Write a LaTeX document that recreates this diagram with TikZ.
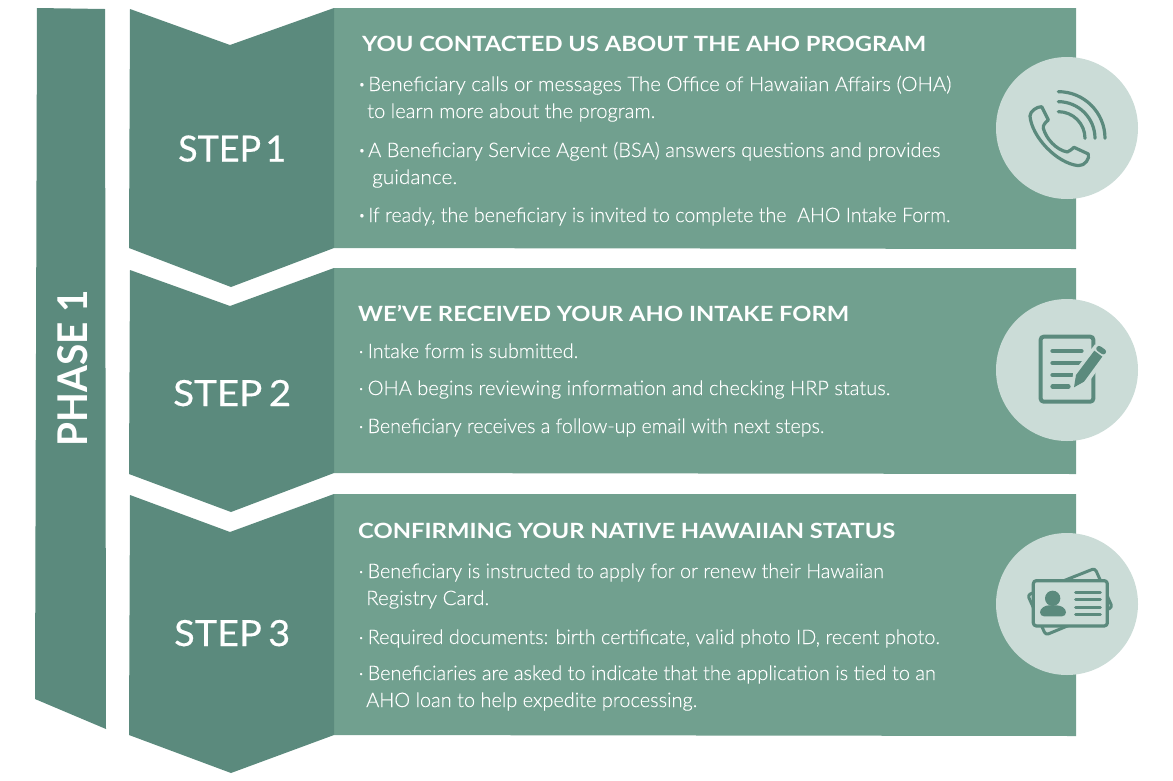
\documentclass[tikz,border=0pt]{standalone}
\usepackage{fontspec}
\usepackage{graphicx}
\setmainfont{Lato}
\newfontfamily\bodyfont[FakeBold=0.2]{Lato Light}
\newfontfamily\stepfont[FakeBold=0.5]{Lato}
\definecolor{darkgreen}{HTML}{5B8A7D}
\definecolor{panelgreen}{HTML}{71A08F}
\definecolor{circlegreen}{HTML}{CBDCD7}
\tikzset{
  chevron/.style={fill=darkgreen,draw=none},
  panel/.style={fill=panelgreen,draw=none},
  badge/.style={circle,fill=circlegreen,draw=none,minimum size=142pt,inner sep=0pt},
  bodytext/.style={anchor=base west,inner sep=0pt,text=white,font=\bodyfont\fontsize{20}{20}\selectfont},
  titletext/.style={anchor=base west,inner sep=0pt,text=white,font=\bfseries\fontsize{21}{21}\selectfont},
  steptext/.style={anchor=base west,inner sep=0pt,text=white,font=\stepfont\fontsize{36}{36}\selectfont},
  iconline/.style={draw=darkgreen,line cap=round,line join=round},
}
\newcommand{\fitline}[5]{\node[#1] (#2) at #3 {\resizebox{#4pt}{\height}{#5}};}
\newcommand{\roundmark}{\makebox[10pt][l]{\hspace{0.5pt}\fontsize{11}{11}\selectfont\raisebox{3pt}{•}}}
\newcommand{\smallmark}{\makebox[9.5pt][l]{\hspace{0.5pt}·}}
\newcommand{\markline}[5]{\node[bodytext] (#1) at #2 {#4\resizebox{#3pt}{\height}{#5}};}
\begin{document}
\begin{tikzpicture}[x=1pt,y=-1pt]
\useasboundingbox (0,0) rectangle (1173,780);
% panels
\fill[panel] (334,8) -- (1076,8) -- (1076,249) -- (334,248) -- cycle;
\fill[panel] (334,268) -- (1076,268) -- (1076,474) -- (334,473) -- cycle;
\fill[panel] (334,494) -- (1076,494) -- (1076,736) -- (334,735) -- cycle;
% phase bar
\fill[chevron] (37,8) -- (105,9) -- (106,729) -- (35,699) -- cycle;
% steps
\fill[chevron] (130,9) -- (230,45) -- (334,8) -- (334,248) -- (231,287) -- (129,248) -- cycle;
\fill[chevron] (130,270) -- (230,306) -- (334,268) -- (334,473) -- (231,512) -- (129,474) -- cycle;
\fill[chevron] (130,495) -- (230,532) -- (334,494) -- (334,735) -- (231,773) -- (129,735) -- cycle;
% badges
\node[badge] (badgeA) at (1067,128) {};
\node[badge] (badgeB) at (1067,370) {};
\node[badge] (badgeC) at (1067,604) {};
% labels
\node[anchor=base,inner sep=0pt,text=white,font=\bfseries\fontsize{41}{41}\selectfont,rotate=90] (phase) at (87,368) {\resizebox{156pt}{\height}{PHASE 1}};
\fitline{steptext}{stepA}{(178,161.5)}{108}{STEP\hspace{0.12em}1}
\fitline{steptext}{stepB}{(173,406)}{118}{STEP\hspace{0.17em}2}
\fitline{steptext}{stepC}{(174,646)}{116}{STEP\hspace{0.17em}3}
% step 1 text
\fitline{titletext}{tA}{(362,51)}{564}{YOU CONTACTED US ABOUT THE AHO PROGRAM}
\markline{a1}{(358,91)}{583}{\roundmark}{Beneficiary calls or messages The Office of Hawaiian Affairs (OHA)}
\fitline{bodytext}{a2}{(367,118)}{288}{to learn more about the program.}
\markline{a3}{(358,157)}{572}{\roundmark}{A Beneficiary Service Agent (BSA) answers questions and provides}
\fitline{bodytext}{a4}{(372,184)}{85}{guidance.}
\markline{a5}{(358,222)}{582}{\roundmark}{If ready, the beneficiary is invited to complete the\ \ AHO Intake Form.}
% step 2 text
\fitline{titletext}{tB}{(358,321)}{491}{WE’VE RECEIVED YOUR AHO INTAKE FORM}
\markline{b1}{(358,358)}{210.5}{\smallmark}{Intake form is submitted.}
\markline{b2}{(358,395)}{522.5}{\smallmark}{OHA begins reviewing information and checking HRP status.}
\markline{b3}{(358,433)}{456.5}{\smallmark}{Beneficiary receives a follow-up email with next steps.}
% step 3 text
\fitline{titletext}{tC}{(358,538)}{537}{CONFIRMING YOUR NATIVE HAWAIIAN STATUS}
\markline{c1}{(358,578)}{516}{\smallmark}{Beneficiary is instructed to apply for or renew their Hawaiian}
\fitline{bodytext}{c2}{(366,605)}{123}{Registry Card.}
\markline{c3}{(358,644)}{572}{\smallmark}{Required documents: birth certificate, valid photo ID, recent photo.}
\markline{c4}{(358,680)}{568}{\smallmark}{Beneficiaries are asked to indicate that the application is tied to an}
\fitline{bodytext}{c5}{(366,707)}{331}{AHO loan to help expedite processing.}
% phone icon
\begin{scope}[shift={(980,40)},x=0.3333pt,y=-0.3333pt,iconline,line width=3.2pt]
\draw (150,228) .. controls (150,214) and (170,200) .. (185,200) -- (205,240) .. controls (196,248) and (188,255) .. (190,265)
  .. controls (198,295) and (228,330) .. (262,336) .. controls (270,334) and (276,326) .. (282,322) -- (325,342)
  .. controls (330,355) and (315,378) .. (295,377) .. controls (230,370) and (155,290) .. (150,228) -- cycle;
\draw (235,155) arc[start angle=-90,end angle=0,radius=140];
\draw (235,185) arc[start angle=-90,end angle=0,radius=110];
\draw (235,215) arc[start angle=-90,end angle=0,radius=80];
\end{scope}
% form icon
\begin{scope}[shift={(980,285)},x=0.3333pt,y=-0.3333pt,iconline]
\draw[line width=4pt,rounded corners=3pt] (340,190) -- (340,155) -- (182,155) -- (182,350) -- (340,350) -- (340,262);
\draw[line width=4.6pt] (218,198) -- (304,198) (218,234) -- (304,234) (218,270) -- (285,270) (218,305) -- (265,305);
\fill[circlegreen] (272,318) -- (280,262) -- (345,178) -- (388,206) -- (320,300) -- cycle;
\fill[darkgreen] (282,307) -- (288,270) -- (343,197) -- (367,215) -- (312,290) -- cycle;
\draw[line width=5.5pt,line cap=round] (357,191) -- (370,200);
\end{scope}
% card icon
\begin{scope}[shift={(980,520)},x=0.3333pt,y=-0.3333pt,iconline]
\draw[line width=3pt,rounded corners=3pt] (143,225) -- (345,145) -- (397,262) -- (197,345) -- cycle;
\draw[line width=3.2pt,rounded corners=3pt,fill=circlegreen] (160,182) rectangle (382,318);
\fill[darkgreen] (218,235) circle[radius=23];
\fill[darkgreen,rounded corners=4pt] (180,289) .. controls (180,265) and (195,256) .. (218,256) .. controls (243,256) and (258,265) .. (258,289) -- cycle;
\draw[line width=3pt] (287,217) -- (361,217) (287,239) -- (361,239) (287,262) -- (361,262) (287,284) -- (361,284);
\end{scope}
\end{tikzpicture}
\end{document}
